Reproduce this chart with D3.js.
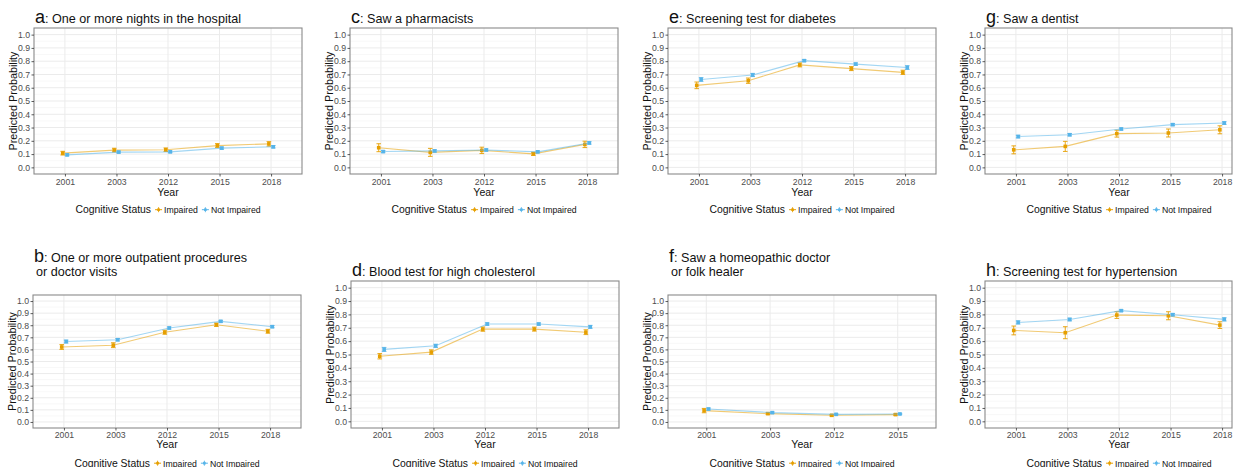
<!DOCTYPE html>
<html>
<head>
<meta charset="utf-8">
<script src="https://cdn.jsdelivr.net/npm/d3@7"></script>
<style>
  html, body { margin: 0; padding: 0; background: #fff; }
  svg { display: block; font-family: "Liberation Sans", Arial, sans-serif; }
</style>
</head>
<body>
<svg id="chart" width="1242" height="467"></svg>
<script>
// ---------------- DATA ----------------
const years5 = ["2001", "2003", "2012", "2015", "2018"];
const years4 = ["2001", "2003", "2012", "2015"];
const yTicks = [0.0, 0.1, 0.2, 0.3, 0.4, 0.5, 0.6, 0.7, 0.8, 0.9, 1.0];
const seriesNames = ["Impaired", "Not Impaired"];
const legendTitle = "Cognitive Status";
const xTitle = "Year";
const yTitle = "Predicted Probability";

// a: One or more nights in the hospital
const hospImp = [0.107, 0.130, 0.133, 0.164, 0.177];
const hospImpErr = [0.014, 0.014, 0.013, 0.015, 0.017];
const hospNot = [0.094, 0.115, 0.117, 0.145, 0.155];
const hospNotErr = [0.007, 0.007, 0.007, 0.008, 0.009];

// b: One or more outpatient procedures or doctor visits
const outpImp = [0.620, 0.635, 0.742, 0.804, 0.750];
const outpImpErr = [0.020, 0.020, 0.017, 0.014, 0.016];
const outpNot = [0.665, 0.680, 0.777, 0.832, 0.788];
const outpNotErr = [0.012, 0.010, 0.009, 0.008, 0.009];

// c: Saw a pharmacists
const pharmImp = [0.148, 0.113, 0.128, 0.102, 0.173];
const pharmImpErr = [0.030, 0.030, 0.024, 0.012, 0.024];
const pharmNot = [0.119, 0.124, 0.131, 0.117, 0.184];
const pharmNotErr = [0.008, 0.008, 0.008, 0.007, 0.009];

// d: Blood test for high cholesterol
const cholImp = [0.487, 0.518, 0.690, 0.690, 0.667];
const cholImpErr = [0.020, 0.017, 0.016, 0.015, 0.018];
const cholNot = [0.538, 0.565, 0.728, 0.728, 0.707];
const cholNotErr = [0.015, 0.012, 0.009, 0.008, 0.011];

// e: Screening test for diabetes
const diabImp = [0.618, 0.653, 0.772, 0.744, 0.716];
const diabImpErr = [0.025, 0.020, 0.015, 0.015, 0.016];
const diabNot = [0.662, 0.696, 0.804, 0.778, 0.752];
const diabNotErr = [0.014, 0.012, 0.008, 0.009, 0.014];

// f: Saw a homeopathic doctor or folk healer
const folkImp = [0.094, 0.069, 0.055, 0.061];
const folkImpErr = [0.018, 0.008, 0.006, 0.006];
const folkNot = [0.107, 0.077, 0.063, 0.066];
const folkNotErr = [0.008, 0.006, 0.005, 0.005];

// g: Saw a dentist
const dentImp = [0.132, 0.158, 0.254, 0.259, 0.283];
const dentImpErr = [0.030, 0.038, 0.026, 0.030, 0.030];
const dentNot = [0.232, 0.246, 0.289, 0.322, 0.334];
const dentNotErr = [0.010, 0.009, 0.008, 0.008, 0.010];

// h: Screening test for hypertension
const hypImp = [0.680, 0.663, 0.795, 0.790, 0.720];
const hypImpErr = [0.033, 0.045, 0.025, 0.030, 0.025];
const hypNot = [0.740, 0.762, 0.828, 0.798, 0.763];
const hypNotErr = [0.012, 0.010, 0.007, 0.009, 0.012];

const panelLetters = ["a", "b", "c", "d", "e", "f", "g", "h"];
const panelTitles = [
  ["One or more nights in the hospital"],
  ["One or more outpatient procedures", "or doctor visits"],
  ["Saw a pharmacists"],
  ["Blood test for high cholesterol"],
  ["Screening test for diabetes"],
  ["Saw a homeopathic doctor", "or folk healer"],
  ["Saw a dentist"],
  ["Screening test for hypertension"]
];
const panelYears = [years5, years5, years5, years5, years5, years4, years5, years5];
const panelImp = [hospImp, outpImp, pharmImp, cholImp, diabImp, folkImp, dentImp, hypImp];
const panelImpErr = [hospImpErr, outpImpErr, pharmImpErr, cholImpErr, diabImpErr, folkImpErr, dentImpErr, hypImpErr];
const panelNot = [hospNot, outpNot, pharmNot, cholNot, diabNot, folkNot, dentNot, hypNot];
const panelNotErr = [hospNotErr, outpNotErr, pharmNotErr, cholNotErr, diabNotErr, folkNotErr, dentNotErr, hypNotErr];

// ---------------- LAYOUT (positions / styles) ----------------
const colors = { "Impaired": "#E69F00", "Not Impaired": "#56B4E9" };
const PW = 268;
const layout = [
  { left: 34,  top: 28,  bottom: 174, clipRight: null, titleY: 22.5, tickY: 185,   xTitleY: 195.5, legY: 213 },
  { left: 33,  top: 295, bottom: 428, clipRight: null, titleY: 275.5, tickY: 437.5, xTitleY: 448, legY: 466.5 },
  { left: 350, top: 28,  bottom: 174, clipRight: null, titleY: 22.5, tickY: 185,   xTitleY: 195.5, legY: 213 },
  { left: 351, top: 281, bottom: 428, clipRight: null, titleY: 275.5, tickY: 437.5, xTitleY: 448, legY: 466.5 },
  { left: 668, top: 28,  bottom: 174, clipRight: null, titleY: 22.5, tickY: 185,   xTitleY: 195.5, legY: 213 },
  { left: 668, top: 295, bottom: 428, clipRight: null, titleY: 275.5, tickY: 437.5, xTitleY: 448, legY: 466.5 },
  { left: 985, top: 28,  bottom: 174, clipRight: 1232, titleY: 22.5, tickY: 185,   xTitleY: 195.5, legY: 213 },
  { left: 985, top: 281, bottom: 428, clipRight: 1232, titleY: 275.5, tickY: 437.5, xTitleY: 448, legY: 466.5 }
];

const svg = d3.select("#chart");

panelLetters.forEach((letter, i) => {
  const L = layout[i];
  const right = L.clipRight ? L.clipRight : L.left + PW;
  const fullRight = L.left + PW;
  const g = svg.append("g");

  const x = d3.scalePoint().domain(panelYears[i]).range([L.left, fullRight]).padding(0.6);
  const y = d3.scaleLinear().domain([-0.05, 1.05]).range([L.bottom, L.top]);

  // background
  g.append("rect").attr("x", L.left).attr("y", L.top).attr("width", right - L.left)
    .attr("height", L.bottom - L.top).attr("fill", "#fff");

  // minor gridlines
  const minor = d3.range(0.05, 1.0, 0.1);
  g.selectAll(".minor").data(minor).join("line")
    .attr("x1", L.left).attr("x2", right)
    .attr("y1", d => y(d)).attr("y2", d => y(d))
    .attr("stroke", "#f4f4f4").attr("stroke-width", 0.6);
  // major gridlines
  g.selectAll(".major").data(yTicks).join("line")
    .attr("x1", L.left).attr("x2", right)
    .attr("y1", d => y(d)).attr("y2", d => y(d))
    .attr("stroke", "#ebebeb").attr("stroke-width", 1);
  g.selectAll(".vmajor").data(panelYears[i]).join("line")
    .attr("x1", d => x(d)).attr("x2", d => x(d))
    .attr("y1", L.top).attr("y2", L.bottom)
    .attr("stroke", "#ebebeb").attr("stroke-width", 1);

  // series
  const series = [
    { name: "Impaired", vals: panelImp[i], errs: panelImpErr[i], dx: -2.2 },
    { name: "Not Impaired", vals: panelNot[i], errs: panelNotErr[i], dx: 2.2 }
  ];
  series.forEach(s => {
    const pts = panelYears[i].map((yr, k) => ({ yr, v: s.vals[k], e: s.errs[k] }));
    const line = d3.line().x(d => x(d.yr) + s.dx).y(d => y(d.v));
    g.append("path").datum(pts).attr("d", line)
      .attr("fill", "none").attr("stroke", colors[s.name])
      .attr("stroke-opacity", 0.55).attr("stroke-width", 1.1);
    // error bars
    const eb = g.append("g");
    pts.forEach(d => {
      const cx = x(d.yr) + s.dx;
      eb.append("line").attr("x1", cx).attr("x2", cx)
        .attr("y1", y(d.v - d.e)).attr("y2", y(d.v + d.e))
        .attr("stroke", colors[s.name]).attr("stroke-width", 0.9);
      [d.v - d.e, d.v + d.e].forEach(vv => {
        eb.append("line").attr("x1", cx - 2.3).attr("x2", cx + 2.3)
          .attr("y1", y(vv)).attr("y2", y(vv))
          .attr("stroke", colors[s.name]).attr("stroke-width", 0.9);
      });
    });
    g.selectAll(null).data(pts).join("rect")
      .attr("x", d => x(d.yr) + s.dx - 1.8).attr("y", d => y(d.v) - 1.8)
      .attr("width", 3.6).attr("height", 3.6)
      .attr("fill", colors[s.name]);
  });

  // border
  g.append("rect").attr("x", L.left).attr("y", L.top).attr("width", right - L.left)
    .attr("height", L.bottom - L.top).attr("fill", "none")
    .attr("stroke", "#8a8a8a").attr("stroke-width", 1.1);

  // y axis
  const yAxis = d3.axisLeft(y).tickValues(yTicks).tickFormat(d3.format(".1f")).tickSize(2.5).tickPadding(1.5);
  const ya = g.append("g").attr("transform", `translate(${L.left},0)`).call(yAxis);
  ya.select(".domain").remove();
  ya.selectAll(".tick line").attr("stroke", "#333").attr("stroke-width", 0.8);
  ya.selectAll(".tick text").attr("fill", "#4d4d4d").attr("font-size", "8.7px")
    .attr("font-family", "Liberation Sans, Arial, sans-serif");

  // x axis
  const xAxis = d3.axisBottom(x).tickSize(2.5).tickPadding(2);
  const xa = g.append("g").attr("transform", `translate(0,${L.bottom})`).call(xAxis);
  xa.select(".domain").remove();
  xa.selectAll(".tick line").attr("stroke", "#333").attr("stroke-width", 0.8);
  xa.selectAll(".tick text").attr("fill", "#4d4d4d").attr("font-size", "8.7px")
    .attr("font-family", "Liberation Sans, Arial, sans-serif")
    .attr("dy", null).attr("y", L.tickY - L.bottom);

  // axis titles
  g.append("text").attr("x", (L.left + fullRight) / 2).attr("y", L.xTitleY)
    .attr("text-anchor", "middle").attr("font-size", "10.6px").attr("fill", "#111").text(xTitle);
  const ym = (L.top + L.bottom) / 2;
  g.append("text").attr("transform", `translate(${L.left - 17.5},${ym}) rotate(-90)`)
    .attr("text-anchor", "middle").attr("font-size", "10.8px").attr("fill", "#111").text(yTitle);

  // title
  const lines = panelTitles[i];
  const startY = L.titleY - (lines.length - 1) * 14;
  const t1 = g.append("text").attr("x", L.left + 1).attr("y", startY).attr("fill", "#111");
  t1.append("tspan").attr("font-size", "18px").text(letter);
  t1.append("tspan").attr("font-size", "12.6px").text(": " + lines[0]);
  for (let k = 1; k < lines.length; k++) {
    g.append("text").attr("x", L.left + 3).attr("y", startY + k * 14)
      .attr("font-size", "12.6px").attr("fill", "#111").text(lines[k]);
  }

  // legend
  const leg = g.append("g");
  const lt = leg.append("text").attr("font-size", "10.4px").attr("fill", "#111").attr("y", L.legY).text(legendTitle);
  let cur = lt.node().getComputedTextLength() + 4;
  const items = [];
  seriesNames.forEach(name => {
    const kx = cur;
    const key = leg.append("g");
    key.append("line").attr("x1", kx).attr("x2", kx + 7).attr("y1", L.legY - 3.3).attr("y2", L.legY - 3.3)
      .attr("stroke", colors[name]).attr("stroke-width", 1);
    key.append("line").attr("x1", kx + 3.5).attr("x2", kx + 3.5).attr("y1", L.legY - 5.8).attr("y2", L.legY - 0.8)
      .attr("stroke", colors[name]).attr("stroke-width", 0.9);
    key.append("rect").attr("x", kx + 2.2).attr("y", L.legY - 4.6).attr("width", 2.6).attr("height", 2.6)
      .attr("fill", colors[name]);
    const tt = leg.append("text").attr("font-size", "8.7px").attr("fill", "#111")
      .attr("x", kx + 9).attr("y", L.legY).text(name);
    cur = kx + 9 + tt.node().getComputedTextLength() + 4;
  });
  const total = cur - 4;
  leg.attr("transform", `translate(${(L.left + fullRight) / 2 - total / 2},0)`);
});
</script>
</body>
</html>
